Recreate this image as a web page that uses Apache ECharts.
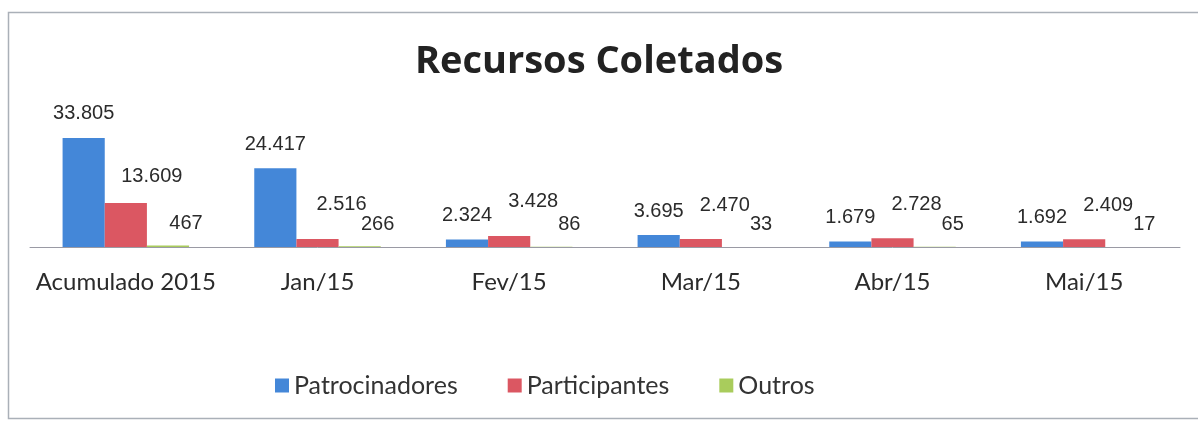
<!DOCTYPE html>
<html>
<head>
<meta charset="utf-8">
<script src="https://cdn.jsdelivr.net/npm/echarts@6/dist/echarts.min.js"></script>
<style>
  html, body { margin: 0; padding: 0; background: #fff; }
  #chart { width: 1198px; height: 421px; }
</style>
</head>
<body>
<div id="chart"></div>
<script>
// Recursos coletados por fonte (valores em R$ mil)
const categories = ['Acumulado 2015', 'Jan/15', 'Fev/15', 'Mar/15', 'Abr/15', 'Mai/15']
const patrocinadores = [33805, 24417, 2324, 3695, 1679, 1692]
const participantes = [13609, 2516, 3428, 2470, 2728, 2409]
const outros = [467, 266, 86, 33, 65, 17]

// 33805 -> "33.805"
function fmt(v) {
  return String(v).replace(/\B(?=(\d{3})+(?!\d))/g, '.')
}

const labelFont = {
  fontFamily: 'Liberation Sans, Arial, sans-serif',
  fontSize: 20,
  color: '#2b2b2b',
}

// labels were nudged by hand in the original, only this one stands out
const labelNudge = { 'Participantes:0': [26, -12] }

function makeSeries(name, values, color, offset) {
  return {
    name,
    type: 'bar',
    data: values.map((v, i) => {
      const nudge = labelNudge[name + ':' + i]
      return nudge ? { value: v, label: { offset: nudge } } : v
    }),
    barGap: '0%',
    barCategoryGap: '34%',
    itemStyle: { color },
    label: {
      show: true,
      position: 'top',
      distance: 5,
      offset,
      formatter: p => fmt(p.value),
      ...labelFont,
    },
  }
}

const chart = echarts.init(document.getElementById('chart'))

chart.setOption({
  backgroundColor: '#ffffff',
  animation: false,
  title: {
    text: 'Recursos Coletados',
    left: 'center',
    top: 38,
    textStyle: {
      fontFamily: 'Open Sans, sans-serif',
      fontWeight: 'bold',
      fontSize: 38,
      color: '#222',
    },
  },
  legend: {
    left: 270,
    top: 368,
    itemWidth: 14,
    itemHeight: 14,
    itemGap: 50,
    icon: 'rect',
    textStyle: {
      fontFamily: 'Lato, sans-serif',
      fontSize: 25,
      color: '#333',
    },
  },
  grid: { left: 30, right: 18, top: 118, bottom: 174 },
  xAxis: {
    type: 'category',
    data: categories,
    axisTick: { show: false },
    axisLine: { lineStyle: { color: '#9a9aa4', width: 1 } },
    axisLabel: {
      interval: 0,
      margin: 23,
      fontFamily: 'Lato, sans-serif',
      fontSize: 24,
      color: '#2b2b2b',
    },
  },
  yAxis: {
    type: 'value',
    min: 0,
    max: 40000,
    show: false,
    splitLine: { show: false },
  },
  series: [
    makeSeries('Patrocinadores', patrocinadores, '#4487d8', [0, -9]),
    makeSeries('Participantes', participantes, '#db5762', [24, -19]),
    makeSeries('Outros', outros, '#a9cc5c', [18, -7]),
  ],
  graphic: [
    {
      type: 'rect',
      shape: { x: 8.5, y: 12.5, width: 1200, height: 406 },
      style: { fill: 'none', stroke: '#aab0b8', lineWidth: 1.5 },
      silent: true,
    },
  ],
})
</script>
</body>
</html>
